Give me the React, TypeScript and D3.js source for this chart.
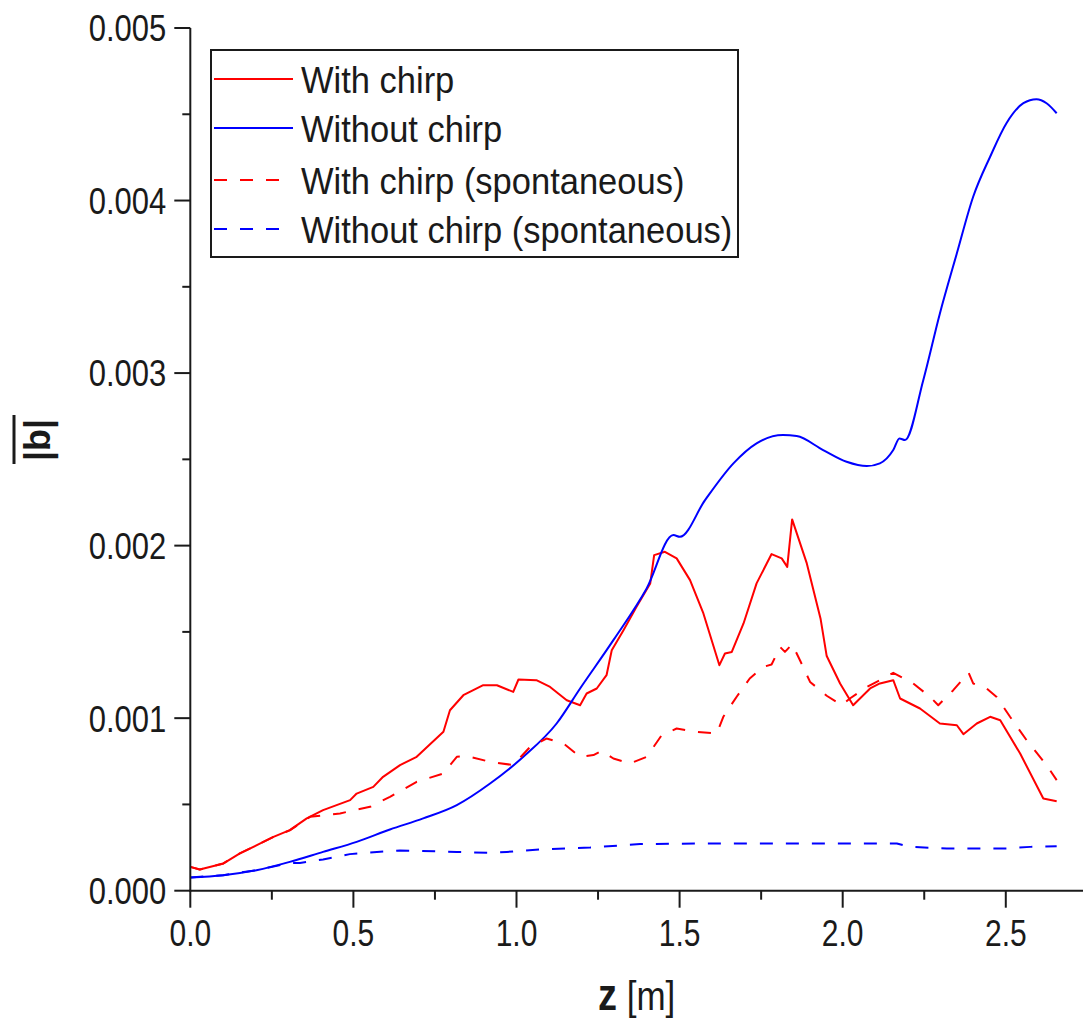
import React from 'react';
import * as d3 from 'd3';

// z [m]
const zWith = [0, 0.029, 0.102, 0.152, 0.204, 0.255, 0.305, 0.357, 0.407, 0.49, 0.51, 0.561, 0.591, 0.643, 0.694, 0.776, 0.796, 0.837, 0.898, 0.94, 0.99, 1.006, 1.061, 1.103, 1.154, 1.195, 1.215, 1.246, 1.276, 1.292, 1.328, 1.368, 1.41, 1.422, 1.455, 1.491, 1.532, 1.573, 1.622, 1.639, 1.66, 1.696, 1.736, 1.782, 1.813, 1.83, 1.845, 1.89, 1.932, 1.951, 1.992, 2.032, 2.084, 2.114, 2.155, 2.176, 2.237, 2.298, 2.35, 2.37, 2.411, 2.452, 2.483, 2.544, 2.615, 2.656];
// |b| in units of 1e-3
const bWith = [0.138, 0.123, 0.158, 0.216, 0.264, 0.312, 0.351, 0.419, 0.467, 0.525, 0.563, 0.602, 0.66, 0.728, 0.776, 0.921, 1.046, 1.133, 1.191, 1.191, 1.152, 1.224, 1.22, 1.181, 1.104, 1.075, 1.143, 1.172, 1.249, 1.394, 1.51, 1.645, 1.781, 1.945, 1.964, 1.926, 1.8, 1.607, 1.307, 1.375, 1.384, 1.549, 1.781, 1.951, 1.926, 1.877, 2.152, 1.897, 1.578, 1.36, 1.201, 1.075, 1.172, 1.201, 1.22, 1.114, 1.056, 0.969, 0.959, 0.907, 0.969, 1.008, 0.988, 0.795, 0.534, 0.519];

const zWithout = [0, 0.101, 0.203, 0.305, 0.407, 0.51, 0.612, 0.714, 0.817, 0.919, 1.021, 1.123, 1.195, 1.297, 1.399, 1.481, 1.501, 1.578, 1.665, 1.736, 1.817, 1.859, 1.94, 2.012, 2.074, 2.114, 2.155, 2.174, 2.191, 2.247, 2.298, 2.35, 2.4, 2.452, 2.502, 2.554, 2.594, 2.625, 2.656];
const bWithout = [0.077, 0.09, 0.119, 0.167, 0.225, 0.283, 0.355, 0.419, 0.496, 0.621, 0.776, 0.969, 1.172, 1.452, 1.752, 2.061, 2.051, 2.264, 2.477, 2.593, 2.641, 2.635, 2.554, 2.486, 2.461, 2.477, 2.554, 2.621, 2.612, 2.959, 3.346, 3.694, 4.022, 4.254, 4.448, 4.564, 4.587, 4.564, 4.506];

const zWithSp = [0, 0.029, 0.101, 0.152, 0.203, 0.255, 0.305, 0.367, 0.459, 0.551, 0.612, 0.694, 0.775, 0.817, 0.848, 0.919, 0.99, 1.042, 1.092, 1.144, 1.195, 1.236, 1.261, 1.297, 1.348, 1.399, 1.445, 1.491, 1.552, 1.614, 1.634, 1.675, 1.715, 1.756, 1.782, 1.808, 1.823, 1.845, 1.869, 1.9, 1.951, 1.997, 2.022, 2.074, 2.114, 2.155, 2.216, 2.268, 2.293, 2.339, 2.386, 2.4, 2.441, 2.472, 2.513, 2.564, 2.625, 2.656];
const bWithSp = [0.138, 0.123, 0.158, 0.216, 0.264, 0.312, 0.35, 0.428, 0.448, 0.486, 0.544, 0.631, 0.679, 0.776, 0.78, 0.747, 0.728, 0.834, 0.882, 0.853, 0.776, 0.786, 0.811, 0.766, 0.737, 0.776, 0.901, 0.94, 0.921, 0.911, 1.008, 1.124, 1.23, 1.297, 1.311, 1.413, 1.384, 1.429, 1.336, 1.21, 1.13, 1.075, 1.114, 1.181, 1.22, 1.263, 1.201, 1.123, 1.075, 1.162, 1.263, 1.201, 1.172, 1.123, 1.008, 0.872, 0.728, 0.641];

const zWithoutSp = [0, 0.101, 0.203, 0.305, 0.336, 0.407, 0.489, 0.572, 0.643, 0.817, 0.919, 0.97, 1.072, 1.226, 1.379, 1.604, 2.114, 2.166, 2.206, 2.319, 2.502, 2.575, 2.656];
const bWithoutSp = [0.077, 0.09, 0.119, 0.16, 0.161, 0.181, 0.212, 0.225, 0.233, 0.225, 0.219, 0.225, 0.239, 0.25, 0.27, 0.274, 0.274, 0.274, 0.254, 0.245, 0.245, 0.254, 0.258];

const seriesNames = ['With chirp', 'Without chirp', 'With chirp (spontaneous)', 'Without chirp (spontaneous)'];
const seriesColors = ['#ff0000', '#0000ff', '#ff0000', '#0000ff'];
const seriesDashed = [false, false, true, true];

const xTicks = [0, 0.5, 1.0, 1.5, 2.0, 2.5];
const xMinorTicks = [0.25, 0.75, 1.25, 1.75, 2.25];
const yTicks = [0, 1, 2, 3, 4, 5];
const yMinorTicks = [0.5, 1.5, 2.5, 3.5, 4.5];

const FONT = '"Liberation Sans", Arial, sans-serif';
const INK = '#1a1a1a';

function StretchText({ x, y, children, size, anchor = 'middle', sy = 1.2, weight = 'normal' }: any) {
  return (
    <g transform={`translate(${x},${y}) scale(1,${sy})`}>
      <text x={0} y={0} dy="0.36em" textAnchor={anchor} fontSize={size} fontFamily={FONT} fontWeight={weight} fill={INK}>
        {children}
      </text>
    </g>
  );
}

export default function App() {
  const W = 1083, H = 1025;
  const x = d3.scaleLinear().domain([0, 2.737]).range([190.3, 1083.1]);
  const y = d3.scaleLinear().domain([0, 5]).range([890.7, 28]);

  const zs = [zWith, zWithout, zWithSp, zWithoutSp];
  const bs = [bWith, bWithout, bWithSp, bWithoutSp];
  const lineGen = (i: number) =>
    d3.line<number>()
      .x((d) => x(zs[i][d]))
      .y((d) => y(bs[i][d]))
      .curve(i === 1 ? d3.curveMonotoneX : d3.curveLinear);

  const x0 = x(0), yBase = y(0);

  return (
    <svg width={W} height={H} style={{ position: 'absolute', left: 0, top: 0, background: '#fff' }}>
      <rect x={0} y={0} width={W} height={H} fill="#fff" />
      {/* series */}
      {seriesNames.map((name, i) => (
        <path
          key={name}
          d={lineGen(i)(d3.range(zs[i].length)) || ''}
          fill="none"
          stroke={seriesColors[i]}
          strokeWidth={2}
          strokeDasharray={seriesDashed[i] ? '13,13' : undefined}
          strokeLinejoin="round"
        />
      ))}
      {/* axes */}
      <line x1={x0} x2={x0} y1={y(5)} y2={yBase + 1} stroke={INK} strokeWidth={2} />
      <line x1={x0 - 1} x2={W} y1={yBase} y2={yBase} stroke={INK} strokeWidth={2} />
      {yTicks.map((t) => (
        <g key={'yt' + t}>
          <line x1={x0 - 16} x2={x0} y1={y(t)} y2={y(t)} stroke={INK} strokeWidth={2} />
          <StretchText x={x0 - 24} y={y(t)} size={31} anchor="end" sy={1.2}>
            {(t / 1000).toFixed(3)}
          </StretchText>
        </g>
      ))}
      {yMinorTicks.map((t) => (
        <line key={'ym' + t} x1={x0 - 8} x2={x0} y1={y(t)} y2={y(t)} stroke={INK} strokeWidth={2} />
      ))}
      {xTicks.map((t) => (
        <g key={'xt' + t}>
          <line x1={x(t)} x2={x(t)} y1={yBase} y2={yBase + 17} stroke={INK} strokeWidth={2} />
          <StretchText x={x(t)} y={933} size={30} sy={1.22}>
            {t.toFixed(1)}
          </StretchText>
        </g>
      ))}
      {xMinorTicks.map((t) => (
        <line key={'xm' + t} x1={x(t)} x2={x(t)} y1={yBase} y2={yBase + 9} stroke={INK} strokeWidth={2} />
      ))}
      {/* axis titles */}
      <g transform={`translate(${(x0 + W) / 2},1003) scale(1,1.15)`}>
        <text x={0} y={0} dy="0.36em" textAnchor="middle" fontFamily={FONT} fill={INK}>
          <tspan fontWeight="bold" fontSize={38}>z</tspan>
          <tspan fontSize={35}> [m]</tspan>
        </text>
      </g>
      <g transform="translate(50,440) rotate(-90)">
        <text x={0} y={0} textAnchor="middle" fontFamily={FONT} fontWeight="bold" fontSize={36} fill={INK}>|b|</text>
      </g>
      <line x1={14} x2={14} y1={415} y2={464} stroke={INK} strokeWidth={3} />
      {/* legend */}
      <rect x={211} y={50} width={527} height={207} fill="#fff" stroke={INK} strokeWidth={2} />
      {seriesNames.map((name, i) => {
        const ly = [79, 128, 180, 229][i];
        return (
          <g key={'lg' + i}>
            <line
              x1={214}
              x2={seriesDashed[i] ? 280 : 293}
              y1={ly}
              y2={ly}
              stroke={seriesColors[i]}
              strokeWidth={2}
              strokeDasharray={seriesDashed[i] ? '13,13' : undefined}
            />
            <StretchText x={301} y={ly + 1} size={34.5} anchor="start" sy={1.05}>
              {name}
            </StretchText>
          </g>
        );
      })}
    </svg>
  );
}
